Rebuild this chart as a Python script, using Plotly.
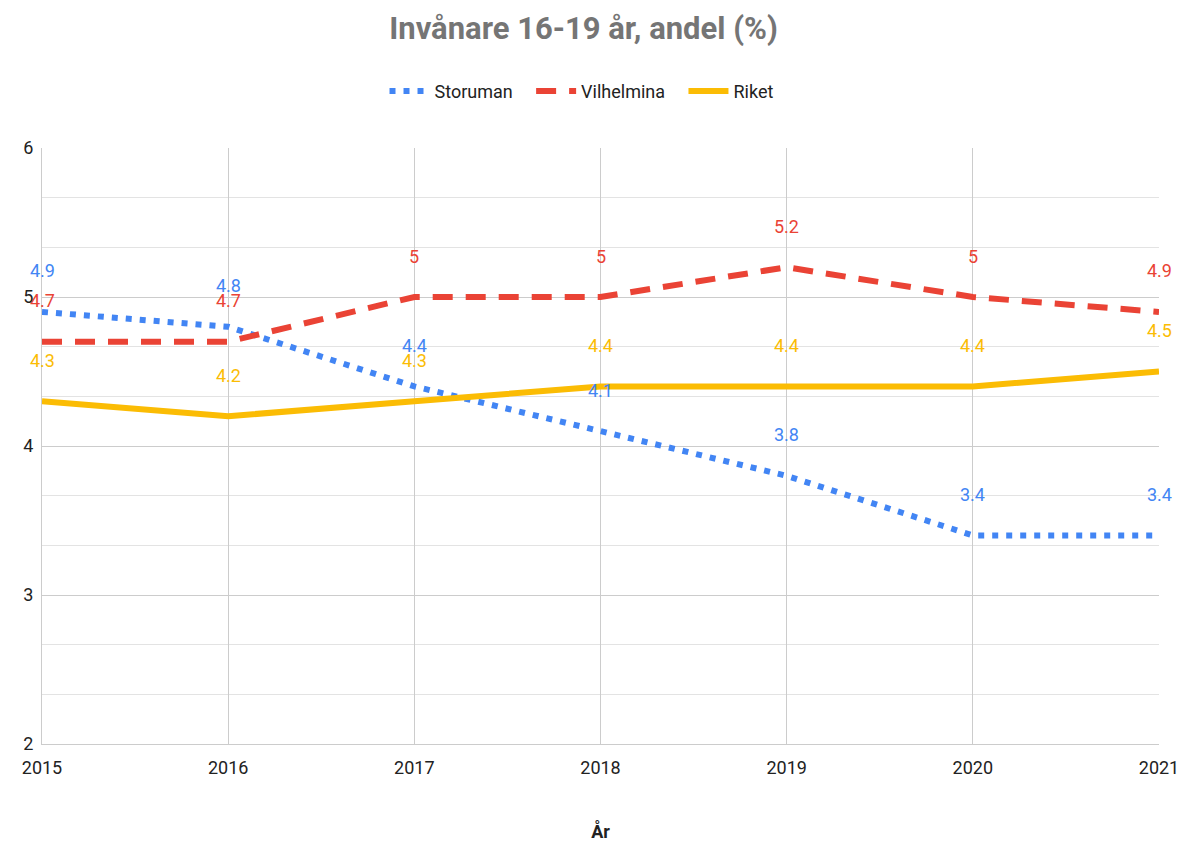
import plotly.graph_objects as go

years = [2015, 2016, 2017, 2018, 2019, 2020, 2021]
storuman = [4.9, 4.8, 4.4, 4.1, 3.8, 3.4, 3.4]
vilhelmina = [4.7, 4.7, 5, 5, 5.2, 5, 4.9]
riket = [4.3, 4.2, 4.3, 4.4, 4.4, 4.4, 4.5]

series = [
    ("Storuman", storuman, "#4285F4", "6px,8px"),
    ("Vilhelmina", vilhelmina, "#EA4335", "20px,13px"),
    ("Riket", riket, "#FBBC04", "solid"),
]

FONT = "Roboto, Arial, sans-serif"
NBSP = "\u00a0"

fig = go.Figure()
annotations = []
for i, (name, vals, color, dash) in enumerate(series):
    label = name + (NBSP * 3 if i < len(series) - 1 else "")
    fig.add_trace(go.Scatter(
        x=years, y=vals, name=label, mode="lines",
        line=dict(color=color, width=6, dash=dash),
    ))
    for x, v in zip(years, vals):
        annotations.append(dict(
            x=x, y=v, xref="x", yref="y", text=f"{v:g}", showarrow=False,
            yshift=41, yanchor="middle",
            font=dict(family=FONT, size=18, color=color),
        ))

fig.update_layout(
    width=1199, height=842,
    margin=dict(l=34, r=48, t=140, b=103),
    paper_bgcolor="white", plot_bgcolor="white",
    font=dict(family=FONT, color="#222222"),
    title=dict(text="<b>Invånare 16-19 år, andel (%)</b>", x=0.48, xanchor="center",
               y=1 - 20 / 842, yanchor="middle", yref="container",
               font=dict(size=31, color="#757575")),
    legend=dict(orientation="h", x=0.483, xanchor="center", y=1.095, yanchor="middle",
                font=dict(size=18, color="#222222"), itemwidth=40,
                traceorder="normal"),
    annotations=annotations,
    showlegend=True,
)

fig.update_xaxes(
    range=[2015, 2021], tickvals=years, ticktext=[str(y) for y in years],
    showgrid=True, gridcolor="#cccccc", gridwidth=1,
    showline=True, linecolor="#cccccc", linewidth=1, mirror=False,
    zeroline=False, tickfont=dict(size=18, color="#222222"),
    ticks="", ticklabelstandoff=7,
    title=dict(text="<b>År</b>", font=dict(size=18, color="#222222"), standoff=48),
)
fig.update_yaxes(
    range=[2, 6], dtick=1, tick0=2,
    showgrid=True, gridcolor="#cccccc", gridwidth=1,
    minor=dict(dtick=1 / 3, tick0=2, showgrid=True, gridcolor="#e3e3e3", gridwidth=1),
    showline=True, linecolor="#cccccc", linewidth=1,
    zeroline=False, tickfont=dict(size=18, color="#222222"),
    ticks="", ticklabelstandoff=4,
)

fig.write_html("out.html")
